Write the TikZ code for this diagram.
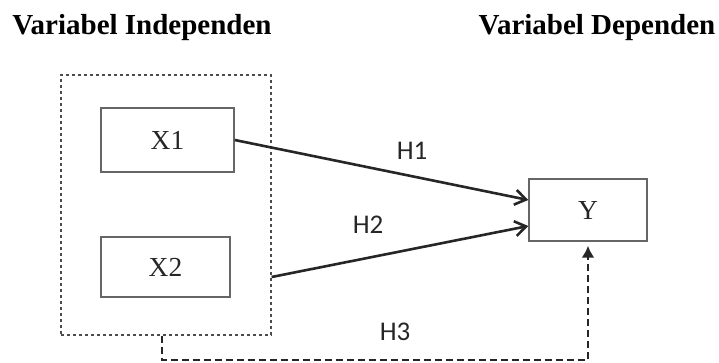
\documentclass[tikz,border=0pt]{standalone}
\usepackage{fontspec}
\setmainfont{Liberation Serif}
\newfontfamily\labelfont{Carlito}
\usetikzlibrary{
    arrows.meta,
    positioning
}
\tikzset{
    >={Straight Barb[length=11pt,width=15pt]},
    var/.style={draw=black!60, line width=1.4pt, text=black!85,
        font=\fontsize{27.5}{30}\selectfont, inner sep=0pt},
    group/.style={draw=black!70, line width=1.2pt, dash pattern=on 3pt off 3pt},
    path/.style={->, draw=black!85, line width=2.6pt},
    hyp/.style={font=\labelfont\fontsize{27}{29}\selectfont, text=black!85},
    title/.style={font=\bfseries\fontsize{29}{31}\selectfont},
}

\begin{document}
\begin{tikzpicture}[x=1pt,y=-1pt]
       \useasboundingbox (0,0) rectangle (719,363);
       \node[title] (t_ind) at (142,28) {Variabel Independen};
       \node[title] (t_dep) at (597,28) {Variabel Dependen};
       \node[group, minimum width=210pt, minimum height=260pt] (grp) at (166,205) {};
       \node[var, minimum width=133pt, minimum height=64pt] (x_1) at (167.5,140) {X1};
       \node[var, minimum width=129pt, minimum height=60pt] (x_2) at (165.5,267) {X2};
       \node[var, minimum width=118pt, minimum height=62pt] (y) at (588,210) {Y};
       \coordinate (h_3) at (166,360);
       \coordinate (h_3end) at ([yshift=-16pt]y.south);
        \draw[path] (x_1.east) -- ([yshift=10pt]y.west);
        \draw[path] ([yshift=-72pt]grp.east) -- ([yshift=-16pt]y.west);
        \draw[draw=black!85, line width=2.6pt, dash pattern=on 7pt off 4pt]
            ([xshift=-4pt]grp.south) -- ([xshift=-4pt]h_3) -| (h_3end);
        \draw[draw=black!85, line width=2.6pt, -{Latex[length=12pt,width=13pt]},
              shorten >=4pt] (h_3end) -- (y.south);
        \node[hyp] (h1) at (412,151) {H1};
        \node[hyp] (h2) at (368,225) {H2};
        \node[hyp] (h3) at (395,332) {H3};
      \end{tikzpicture}
\end{document}
